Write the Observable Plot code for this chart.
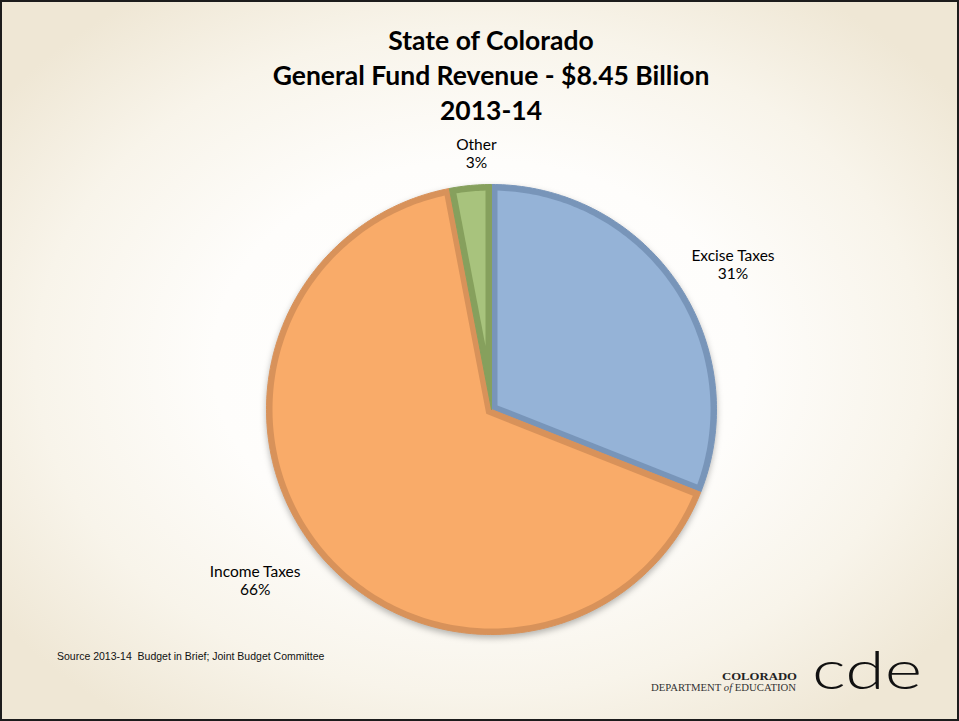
<!DOCTYPE html>
<html><head><meta charset="utf-8">
<script src="https://cdn.jsdelivr.net/npm/d3@7"></script>
<script src="https://cdn.jsdelivr.net/npm/@observablehq/plot@0.6"></script>
<style>
html,body{margin:0;padding:0;background:#fff;}
#frame{position:relative;width:955px;height:717px;border:2px solid #1c1c1c;
  background:radial-gradient(ellipse 62% 62% at 50% 50%, #ffffff 0%, #fefdfb 45%, #f8f4ea 75%, #efe7d5 100%);
  overflow:hidden;font-family:Lato,"Open Sans",sans-serif;color:#000;}
#title{position:absolute;left:89px;width:800px;top:21px;text-align:center;font-weight:700;font-size:26.5px;line-height:35px;}
#chart{position:absolute;left:0;top:0;}
#source{position:absolute;left:55px;top:648px;font-family:"Liberation Sans Narrow","Liberation Sans",Arial,sans-serif;font-size:10.5px;color:#111;}
#logo{position:absolute;left:0;top:0;}
</style></head>
<body>
<div id="frame">
  <div id="chart"></div>
  <div id="title">State of Colorado<br>General Fund Revenue - $8.45 Billion<br>2013-14</div>
  <div id="source">Source 2013-14&nbsp; Budget in Brief; Joint Budget Committee</div>
  <svg id="logo" width="955" height="717">
    <text x="795" y="678" text-anchor="end" font-family="Liberation Serif, DejaVu Serif, serif" font-weight="700" font-size="10.5" fill="#222" textLength="75" lengthAdjust="spacingAndGlyphs">COLORADO</text>
    <text x="794" y="689" text-anchor="end" font-family="Liberation Serif, DejaVu Serif, serif" font-size="9.5" fill="#333" textLength="145" lengthAdjust="spacingAndGlyphs">DEPARTMENT <tspan font-style="italic">of</tspan> EDUCATION</text>
    <text x="810" y="687" font-family="Lato, DejaVu Sans, sans-serif" font-weight="300" font-size="54" fill="#111" textLength="110" lengthAdjust="spacingAndGlyphs">cde</text>
  </svg>
</div>
<script>
const categories = ["Excise Taxes", "Income Taxes", "Other"];
const shares = [31, 66, 3];
const fillColors = ["#95b3d7", "#f9ab69", "#a8c37d"];
const edgeColors = ["#7895b9", "#d8925a", "#86a05d"];

// layout
const W = 955, H = 717, cx = 489, cy = 407, R = 225, inset = 6;
const labelRadius = {"Excise Taxes": 1.26, "Income Taxes": 1.3, "Other": 1.14};
const labelNudge = {"Excise Taxes": [7, 14], "Income Taxes": [-11, -16], "Other": [9, -1]};

const slices = d3.pie().sort(null).value(d => d.value)(
  categories.map((c, i) => ({name: c, value: shares[i], fill: fillColors[i], edge: edgeColors[i]}))
);

const pt = (a, r) => ({x: r * Math.sin(a), y: -r * Math.cos(a)});
const outer = [], inner = [];
for (const s of slices) {
  const {startAngle: a0, endAngle: a1} = s;
  const base = {name: s.data.name, fill: s.data.fill, edge: s.data.edge};
  const n = Math.max(8, Math.ceil((a1 - a0) * 60));
  outer.push({...base, ...pt(0, 0)});
  for (let k = 0; k <= n; k++) outer.push({...base, ...pt(a0 + (a1 - a0) * k / n, 1)});
  outer.push({...base, ...pt(0, 0)});
  const d = inset / R, rho = 1 - d, h = (a1 - a0) / 2;
  const apex = pt(a0 + h, d / Math.sin(h));
  const b0 = a0 + Math.asin(d / rho), b1 = a1 - Math.asin(d / rho);
  inner.push({...base, ...apex});
  for (let k = 0; k <= n; k++) inner.push({...base, ...pt(b0 + (b1 - b0) * k / n, rho)});
  inner.push({...base, ...apex});
}

const labels = slices.map(s => {
  const m = (s.startAngle + s.endAngle) / 2, name = s.data.name;
  const p = pt(m, labelRadius[name]);
  const [nx, ny] = labelNudge[name];
  return {x: p.x + nx / R, y: p.y + ny / R, text: `${name}\n${s.data.value}%`};
});

const chart = Plot.plot({
  width: W, height: H, margin: 0,
  style: {background: "transparent", overflow: "visible"},
  x: {domain: [-1, 1], range: [cx - R, cx + R], axis: null},
  y: {domain: [-1, 1], range: [cy - R, cy + R], axis: null},
  color: {type: "identity"},
  marks: [
    Plot.line(outer, {x: "x", y: "y", z: "name", fill: "edge", stroke: "edge", strokeWidth: 1, curve: "linear"}),
    Plot.line(inner, {x: "x", y: "y", z: "name", fill: "fill", stroke: "none", curve: "linear"}),
    Plot.text(labels, {x: "x", y: "y", text: "text", fontSize: 15.5, lineHeight: 1.2, lineAnchor: "middle",
      fill: "#000", fontFamily: "Lato, 'Open Sans', sans-serif"})
  ]
});
const g = chart.querySelector('g[aria-label="line"]');
if (g) g.style.filter = "drop-shadow(0px 3px 3px rgba(0,0,0,0.28))";
document.getElementById("chart").appendChild(chart);
</script>
</body></html>
